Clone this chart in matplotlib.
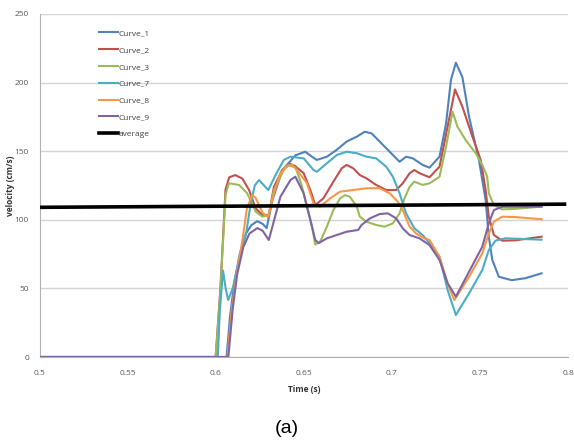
import matplotlib
matplotlib.use("Agg")
import matplotlib.pyplot as plt

# ---------------- data ----------------
t1 = [0.5, 0.606, 0.608, 0.6105, 0.6135, 0.617, 0.620, 0.6235, 0.6265, 0.6288, 0.632, 0.6376,
      0.6451, 0.6507, 0.6545, 0.6573, 0.663, 0.6686, 0.6742, 0.680, 0.6846, 0.6884, 0.693,
      0.6987, 0.7043, 0.708, 0.7118, 0.7174, 0.7213, 0.727, 0.7307, 0.7335, 0.7363, 0.740,
      0.7438, 0.7494, 0.7532, 0.755, 0.757, 0.7607, 0.768, 0.7757, 0.785]
v1 = [0, 0, 30, 55, 75, 90, 96, 99, 97, 94, 114, 136,
      147, 149.6, 146, 143.6, 146, 151, 157, 160.6, 164.2, 163, 157,
      149.6, 142.3, 146, 144.8, 140, 138, 146, 170, 202, 214.5, 204,
      175, 143.6, 114.4, 87.7, 70.7, 58.5, 56, 57.4, 61]

t2 = [0.5, 0.5998, 0.6025, 0.6054, 0.6075, 0.611, 0.615, 0.6188, 0.6225, 0.6263, 0.630, 0.6329,
      0.6376, 0.6423, 0.6451, 0.6498, 0.6536, 0.6564, 0.661, 0.6667, 0.6714, 0.6742, 0.678,
      0.6817, 0.6855, 0.691, 0.6967, 0.7024, 0.7061, 0.710, 0.7127, 0.7156, 0.7213, 0.727,
      0.7316, 0.7358, 0.740, 0.7457, 0.7504, 0.7532, 0.755, 0.7579, 0.7626, 0.770, 0.785]
v2 = [0, 0, 50, 122, 131, 132.6, 130, 121.7, 108.4, 103.5, 103.5, 124,
      136.3, 140.7, 139, 134, 121.7, 110.8, 115.6, 127.8, 137.5, 140, 137.5,
      132.6, 130.2, 125.4, 121.7, 121.7, 126.6, 133.9, 136.3, 134, 131, 138.7,
      168, 195, 182.4, 160.6, 143.6, 121.7, 102.3, 88.9, 84.8, 85, 87.7]

t3 = [0.5, 0.5998, 0.6025, 0.6054, 0.6073, 0.6131, 0.6177, 0.6225, 0.6263, 0.630, 0.6329,
      0.6394, 0.6432, 0.6455, 0.6485, 0.6517, 0.6545, 0.6564, 0.6592, 0.663, 0.6667, 0.6705,
      0.6733, 0.6761, 0.680, 0.6817, 0.6855, 0.691, 0.6958, 0.7005, 0.7043, 0.7071, 0.710,
      0.7127, 0.7174, 0.7213, 0.727, 0.7307, 0.7344, 0.7372, 0.7419, 0.7476, 0.7513, 0.7541,
      0.755, 0.7579, 0.7626, 0.770, 0.785]
v3 = [0, 0, 48, 118, 126.6, 125.4, 119.3, 106, 102.3, 103.5, 121.7,
      138.7, 140, 137, 126, 109.5, 95, 82, 84, 95, 107.1, 115.6,
      118, 116.8, 109.5, 102.3, 98.6, 96.2, 95, 97.4, 104.7, 115.6, 124,
      127.8, 125.4, 126.6, 131.4, 153.3, 178.8, 167.9, 158, 148.5, 140, 131.4,
      119.3, 110.8, 107.6, 108, 109.6]

t7 = [0.5, 0.601, 0.6022, 0.604, 0.6055, 0.6069, 0.6095, 0.6126, 0.6171, 0.6195, 0.622, 0.6244,
      0.6297, 0.634, 0.6385, 0.6423, 0.6498, 0.6554, 0.6573, 0.663, 0.6686, 0.6742, 0.680,
      0.6855, 0.691, 0.6967, 0.7005, 0.7043, 0.708, 0.7127, 0.7174, 0.7213, 0.727, 0.7316,
      0.7363, 0.7438, 0.7513, 0.755, 0.7588, 0.7644, 0.785]
v7 = [0, 0, 34, 63, 50, 41.5, 50, 68, 90, 110, 125, 129,
      121.7, 133, 143.6, 146, 144.8, 136.3, 135, 141.2, 147.2, 149.6, 148.5,
      146, 144.8, 138.7, 131.4, 119.3, 104.7, 93.8, 88.9, 83, 73, 48.8,
      30.6, 46.4, 63.4, 78, 84.8, 86.5, 85.5]

t8 = [0.5, 0.6065, 0.609, 0.612, 0.615, 0.6175, 0.6205, 0.6225, 0.6265, 0.6295, 0.633, 0.6366,
      0.6413, 0.645, 0.6517, 0.6554, 0.6592, 0.6648, 0.6705, 0.678, 0.6855, 0.693, 0.6987,
      0.7033, 0.7061, 0.710, 0.7137, 0.7184, 0.7213, 0.727, 0.7316, 0.7354, 0.7438, 0.7513,
      0.755, 0.7579, 0.7626, 0.770, 0.785]
v8 = [0, 0, 35, 62, 85, 108, 118, 116, 105, 102, 120, 134,
      140, 138, 126.6, 112, 109.5, 115.6, 120.5, 121.7, 123, 123, 119.3,
      113.2, 107.1, 95, 90, 86.5, 85.3, 73.1, 53.7, 41.5, 58.5, 75.6,
      90, 98.6, 102.3, 102, 100.4]

t9 = [0.5, 0.607, 0.6095, 0.612, 0.6155, 0.619, 0.6235, 0.6265, 0.630, 0.6335, 0.6366, 0.6423,
      0.6451, 0.6498, 0.6536, 0.6564, 0.6583, 0.663, 0.6686, 0.6742, 0.6808, 0.6827, 0.6874,
      0.693, 0.6977, 0.7024, 0.7061, 0.710, 0.7156, 0.7213, 0.727, 0.7316, 0.7363, 0.7438,
      0.7513, 0.755, 0.7579, 0.7626, 0.785]
v9 = [0, 0, 35, 60, 80, 90, 94, 92, 85.3, 102, 116.8, 129,
      131.4, 119.3, 100, 85.3, 83, 86.5, 88.9, 91.3, 92.6, 96.2, 101,
      104.2, 104.7, 101, 93.8, 88.9, 86.5, 81.6, 70.7, 53.7, 44, 62.2,
      80.4, 97.4, 107.1, 109.5, 109.6]

t_avg = [0.5, 0.798]
v_avg = [109.1, 111.4]

series = [("Curve_1", t1, v1), ("Curve_2", t2, v2), ("Curve_3", t3, v3),
          ("Curve_7", t7, v7), ("Curve_8", t8, v8), ("Curve_9", t9, v9)]
colors = ["#4F81BD", "#C0504D", "#9BBB59", "#4BACC6", "#F79646", "#8064A2"]

x_ticks = [0.5, 0.55, 0.6, 0.65, 0.7, 0.75, 0.8]
x_tick_labels = ["0.5", "0.55", "0.6", "0.65", "0.7", "0.75", "0.8"]
y_ticks = [0, 50, 100, 150, 200, 250]

# ---------------- figure ----------------
W, H = 574, 448
fig = plt.figure(figsize=(W / 100, H / 100), dpi=100)
left, right, top, bottom = 40, 568, 14, 357
ax = fig.add_axes([left / W, 1 - bottom / H, (right - left) / W, (bottom - top) / H])

font = "Open Sans"
for (name, t, v), c in zip(series, colors):
    ax.plot(t, v, color=c, lw=1.5, label=name, solid_joinstyle="round", zorder=3)
ax.plot(t_avg, v_avg, color="black", lw=2.6, label="average", zorder=4)

ax.set_xlim(0.5, 0.8)
ax.set_ylim(0, 250)
ax.set_xticks(x_ticks)
ax.set_xticklabels(x_tick_labels)
ax.set_yticks(y_ticks)
ax.yaxis.grid(True, color="#D4D4D4", lw=1.0)
ax.set_axisbelow(True)
for s in ["top", "right"]:
    ax.spines[s].set_visible(False)
ax.spines["left"].set_color("#B0B0B0")
ax.spines["bottom"].set_color("#B0B0B0")
ax.tick_params(length=0, labelsize=6, labelcolor="#595959")
ax.tick_params(axis="y", pad=8)
ax.tick_params(axis="x", pad=9)
for lbl in ax.get_xticklabels() + ax.get_yticklabels():
    lbl.set_family(font)

ax.set_xlabel("Time (s)", fontsize=6, fontweight="bold", family=font, color="#333333", labelpad=6)
ax.set_ylabel("velocity (cm/s)", fontsize=6, fontweight="bold", family=font, color="#333333", labelpad=0)

leg = ax.legend(loc="upper left", bbox_to_anchor=(0.105, 0.965), frameon=False,
                prop={"family": font, "size": 6}, handlelength=2.3, handletextpad=0.1,
                labelspacing=1.08, borderaxespad=0)
for txt in leg.get_texts():
    txt.set_color("#404040")

fig.text(0.5, 1 - 428 / H, "(a)", ha="center", va="center", fontsize=14, family="Liberation Sans")

fig.savefig("out.png", dpi=100)
